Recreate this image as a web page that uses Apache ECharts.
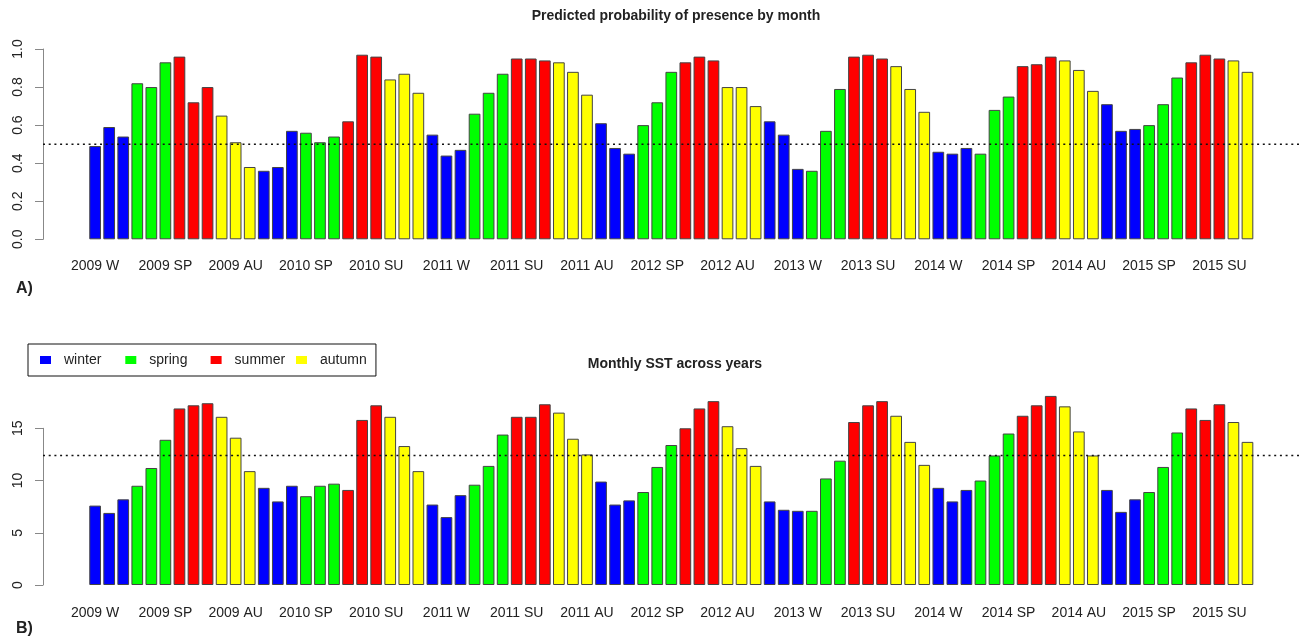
<!DOCTYPE html>
<html><head><meta charset="utf-8">
<script src="https://cdn.jsdelivr.net/npm/echarts@6/dist/echarts.min.js"></script>
<style>html,body{margin:0;padding:0;background:#fff}#c{width:1308px;height:637px}</style>
</head><body><div id="c"></div>
<script>
// ---- data ----
const years = [2009, 2010, 2011, 2012, 2013, 2014, 2015];
const monthSeason = ['W','W','W','SP','SP','SP','SU','SU','SU','AU','AU','AU'];
const seasonKeys = ['W', 'SP', 'SU', 'AU'];
const seasonNames = ['winter', 'spring', 'summer', 'autumn'];
const seasonColors = ['#0000FF', '#00FF00', '#FF0000', '#FFFF00'];

const presence = [
  0.49, 0.59, 0.54, 0.82, 0.80, 0.93, 0.96, 0.72, 0.80, 0.65, 0.51, 0.38,
  0.36, 0.38, 0.57, 0.56, 0.51, 0.54, 0.62, 0.97, 0.96, 0.84, 0.87, 0.77,
  0.55, 0.44, 0.47, 0.66, 0.77, 0.87, 0.95, 0.95, 0.94, 0.93, 0.88, 0.76,
  0.61, 0.48, 0.45, 0.60, 0.72, 0.88, 0.93, 0.96, 0.94, 0.80, 0.80, 0.70,
  0.62, 0.55, 0.37, 0.36, 0.57, 0.79, 0.96, 0.97, 0.95, 0.91, 0.79, 0.67,
  0.46, 0.45, 0.48, 0.45, 0.68, 0.75, 0.91, 0.92, 0.96, 0.94, 0.89, 0.78,
  0.71, 0.57, 0.58, 0.60, 0.71, 0.85, 0.93, 0.97, 0.95, 0.94, 0.88
];
const sst = [
  7.6, 6.9, 8.2, 9.5, 11.2, 13.9, 16.9, 17.2, 17.4, 16.1, 14.1, 10.9,
  9.3, 8.0, 9.5, 8.5, 9.5, 9.7, 9.1, 15.8, 17.2, 16.1, 13.3, 10.9,
  7.7, 6.5, 8.6, 9.6, 11.4, 14.4, 16.1, 16.1, 17.3, 16.5, 14.0, 12.5,
  9.9, 7.7, 8.1, 8.9, 11.3, 13.4, 15.0, 16.9, 17.6, 15.2, 13.1, 11.4,
  8.0, 7.2, 7.1, 7.1, 10.2, 11.9, 15.6, 17.2, 17.6, 16.2, 13.7, 11.5,
  9.3, 8.0, 9.1, 10.0, 12.4, 14.5, 16.2, 17.2, 18.1, 17.1, 14.7, 12.4,
  9.1, 7.0, 8.2, 8.9, 11.3, 14.6, 16.9, 15.8, 17.3, 15.6, 13.7
];
const presenceThreshold = 0.5;
const sstThreshold = 12.4;
const titleA = 'Predicted probability of presence by month';
const titleB = 'Monthly SST across years';

// ---- derived categories ----
const seasons = presence.map((_, i) => monthSeason[i % 12]);
const categories = presence.map((_, i) => years[Math.floor(i / 12)] + ' ' + seasons[i]);

const FONT = "'Liberation Sans', Arial, Helvetica, sans-serif";
const TXT = '#222';
const AX = '#888';

function barSeries(values, gi, stack) {
  return seasonKeys.map((k, s) => ({
    name: seasonNames[s], type: 'bar', stack: stack,
    xAxisIndex: gi, yAxisIndex: gi,
    barCategoryGap: '16.7%',
    data: values.map((v, i) => seasons[i] === k ? v : '-'),
    itemStyle: { color: seasonColors[s], borderColor: '#444', borderWidth: 1 },
    silent: true
  }));
}
function refLine(gi, v) {
  return { type: 'line', xAxisIndex: gi, yAxisIndex: gi, data: [[0, v], [1, v]],
    symbol: 'none', z: 10, silent: true,
    lineStyle: { color: '#111', width: 1.5, type: [2, 3.7] } };
}
const catAxis = (gi, m) => ({
  type: 'category', gridIndex: gi, data: categories,
  axisLine: { show: false }, axisTick: { show: false },
  axisLabel: { interval: 4, fontSize: 14, color: TXT, fontFamily: FONT, margin: m }
});
const hidX = (gi) => ({ type: 'value', gridIndex: gi, min: 0, max: 1, show: false });
const hidY = (gi, max) => ({ type: 'value', gridIndex: gi, min: 0, max: max, show: false });
const visY = (gi, max, step, fmt) => ({
  type: 'value', gridIndex: gi, min: 0, max: max, interval: step,
  splitLine: { show: false },
  axisLine: { show: true, lineStyle: { color: AX, width: 1 } },
  axisTick: { show: true, length: 8, lineStyle: { color: AX } },
  axisLabel: { rotate: 90, fontSize: 14, color: TXT, fontFamily: FONT, margin: 18, formatter: fmt }
});

// legend: one entry per component, evenly spaced like R's horizontal legend
const legendLefts = [40, 125.3, 210.6, 296];
const legends = seasonNames.map((n, i) => ({
  data: [n], left: legendLefts[i], top: 353, orient: 'horizontal',
  icon: 'rect', itemWidth: 11, itemHeight: 8, itemGap: 0,
  itemStyle: { borderWidth: 0 },
  padding: 0, selectedMode: false,
  textStyle: { fontSize: 14, color: TXT, fontFamily: FONT, padding: [0, 0, 0, 8] }
}));
// the first legend also draws the frame round all four entries
Object.assign(legends[0], {
  left: 28, top: 344, padding: [9, 274.6, 9, 12],
  borderColor: '#111', borderWidth: 1, borderRadius: 0
});

const pxB = 10.447;
const option = {
  animation: false,
  backgroundColor: '#fff',
  textStyle: { fontFamily: FONT },
  title: [
    { text: titleA, left: 671, top: 4, textAlign: 'center',
      textStyle: { fontSize: 14, fontWeight: 'bold', color: TXT, fontFamily: FONT } },
    { text: titleB, left: 670, top: 352, textAlign: 'center',
      textStyle: { fontSize: 14, fontWeight: 'bold', color: TXT, fontFamily: FONT } },
    { text: 'A)', left: 11, top: 276, textStyle: { fontSize: 16, fontWeight: 'bold', color: TXT, fontFamily: FONT } },
    { text: 'B)', left: 11, top: 616, textStyle: { fontSize: 16, fontWeight: 'bold', color: TXT, fontFamily: FONT } }
  ],
  legend: legends,
  grid: [
    { left: 88.1, top: 49, width: 1166.4, height: 190.3 },
    { left: 43, top: 49, width: 1257, height: 190.3 },
    { left: 88.1, top: 585 - 18.5 * pxB, width: 1166.4, height: 18.5 * pxB },
    { left: 43, top: 585 - 15 * pxB, width: 1257, height: 15 * pxB }
  ],
  xAxis: [catAxis(0, 20), hidX(1), catAxis(2, 21), hidX(3)],
  yAxis: [
    hidY(0, 1),
    visY(1, 1, 0.2, (v) => v.toFixed(1)),
    hidY(2, 18.5),
    visY(3, 15, 5, (v) => String(v))
  ],
  series: [
    ...barSeries(presence, 0, 'A'),
    refLine(1, presenceThreshold),
    ...barSeries(sst, 2, 'B'),
    refLine(3, sstThreshold)
  ]
};
const chart = echarts.init(document.getElementById('c'), null, { renderer: 'canvas' });
chart.setOption(option);
</script>
</body></html>
